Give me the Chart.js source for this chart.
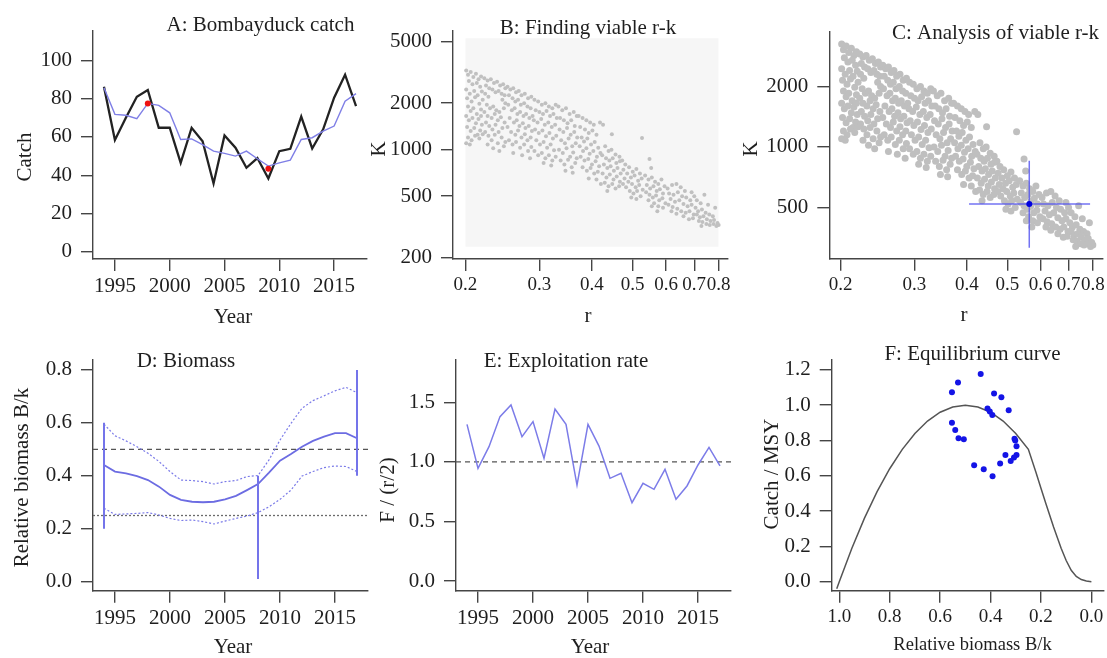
<!DOCTYPE html>
<html><head><meta charset="utf-8">
<script src="https://cdn.jsdelivr.net/npm/chart.js@4.4.1/dist/chart.umd.min.js"></script>
<style>
html,body{margin:0;padding:0;background:#fff;}
#wrap{position:relative;width:1107px;height:658px;overflow:hidden;background:#fff;}
canvas{position:absolute;}
</style></head><body><div id="wrap">
<canvas id="cA"></canvas><canvas id="cB"></canvas><canvas id="cC"></canvas>
<canvas id="cD"></canvas><canvas id="cE"></canvas><canvas id="cF"></canvas>
</div>
<script>
// ---------------- DATA ----------------
const years = [1994,1995,1996,1997,1998,1999,2000,2001,2002,2003,2004,2005,2006,2007,2008,2009,2010,2011,2012,2013,2014,2015,2016,2017];
const catchObs = [86.2,58.4,70,81,84.5,64.8,64.8,46.5,64.8,57.8,35.7,60.8,54.4,43.9,49,38.3,52.6,53.8,70.6,54,64,80.5,92.5,76.1];
const catchSmooth = [85.7,71.8,71.3,69.5,77.5,76.5,72.6,58.7,59,56,52.6,51.4,50,52.6,48.6,44.8,46.5,47.9,58.7,59.6,63,65.7,78.7,82.6];
const redYears = [1998,2009];
const redCatch = [77.5,43.4];
const catchTicks = [0,20,40,60,80,100];
const yearTicks = [1995,2000,2005,2010,2015];

const rTicks = [0.2,0.3,0.4,0.5,0.6,0.7,0.8];
const kTicksB = [200,500,1000,2000,5000];
const kTicksC = [500,1000,2000];
const exploredR = [0.2,0.8];
const exploredKtop = [5260,5260];
const exploredKbottom = 235;
const viableRK = [
[0.201,3250],[0.203,3050],[0.206,3180],[0.209,2950],[0.212,3100],[0.215,2850],[0.218,2980],[0.204,2780],[0.208,2650],[0.213,2700],[0.217,2550],[0.201,2450],[0.205,2300],[0.21,2400],[0.214,2250],[0.219,2380],[0.202,2150],[0.207,2050],[0.211,2180],[0.216,1980],[0.22,2100],[0.203,1900],[0.206,1780],[0.209,1850],[0.213,1700],[0.218,1820],[0.201,1650],[0.204,1550],[0.208,1600],[0.212,1480],[0.215,1580],[0.219,1450],[0.202,1400],[0.206,1320],[0.21,1380],[0.214,1250],[0.217,1330],[0.203,1200],[0.207,1150],[0.211,1230],[0.216,1180],[0.201,1100],[0.205,1080],[0.22,1260],[0.218,1650],
[0.222,2900],[0.226,2800],[0.23,2850],[0.234,2700],[0.238,2750],[0.242,2600],[0.246,2650],[0.249,2500],[0.224,2600],[0.228,2500],[0.232,2450],[0.236,2350],[0.24,2400],[0.244,2300],[0.248,2250],[0.223,2300],[0.227,2200],[0.245,2100],[0.249,2000],[0.225,1950],[0.229,1850],[0.233,1900],[0.237,1800],[0.241,1750],[0.247,1850],[0.222,1750],[0.226,1650],[0.231,1600],[0.235,1700],[0.239,1550],[0.243,1620],[0.248,1500],[0.224,1500],[0.228,1420],[0.232,1350],[0.236,1450],[0.24,1300],[0.245,1380],[0.223,1300],[0.227,1230],[0.231,1150],[0.235,1250],[0.239,1100],[0.244,1200],[0.249,1120],[0.226,1080],[0.233,1020],[0.241,980],[0.247,1050],
[0.252,2550],[0.256,2450],[0.26,2500],[0.264,2350],[0.268,2400],[0.272,2250],[0.277,2300],[0.282,2150],[0.287,2200],[0.254,2250],[0.259,2150],[0.263,2050],[0.267,2100],[0.271,1950],[0.276,2000],[0.281,1900],[0.286,1850],[0.253,1950],[0.258,1800],[0.262,1850],[0.266,1700],[0.27,1750],[0.275,1650],[0.279,1700],[0.284,1600],[0.289,1650],[0.255,1600],[0.261,1500],[0.265,1550],[0.269,1420],[0.274,1480],[0.278,1380],[0.283,1420],[0.288,1320],[0.252,1400],[0.257,1300],[0.263,1250],[0.267,1330],[0.272,1200],[0.277,1260],[0.281,1150],[0.286,1200],[0.254,1150],[0.259,1080],[0.264,1120],[0.27,1030],[0.276,1080],[0.282,980],[0.287,1040],[0.26,950],[0.273,920],[0.285,880],
[0.292,2100],[0.298,2050],[0.304,1950],[0.31,2000],[0.316,1900],[0.322,1850],[0.328,1950],[0.294,1800],[0.3,1750],[0.306,1700],[0.312,1780],[0.318,1650],[0.324,1700],[0.33,1600],[0.291,1550],[0.297,1500],[0.303,1580],[0.309,1450],[0.315,1500],[0.321,1400],[0.327,1450],[0.293,1350],[0.299,1280],[0.305,1330],[0.311,1220],[0.317,1280],[0.323,1180],[0.329,1230],[0.295,1150],[0.301,1080],[0.307,1120],[0.313,1030],[0.319,1080],[0.325,990],[0.292,980],[0.298,920],[0.304,950],[0.31,880],[0.316,920],[0.322,850],[0.328,900],[0.307,820],[0.32,790],
[0.333,1900],[0.34,1800],[0.347,1850],[0.354,1700],[0.362,1750],[0.368,1650],[0.336,1600],[0.343,1550],[0.35,1480],[0.357,1550],[0.364,1420],[0.335,1350],[0.342,1300],[0.349,1380],[0.356,1250],[0.363,1300],[0.369,1200],[0.338,1150],[0.345,1100],[0.352,1180],[0.359,1050],[0.366,1100],[0.334,1000],[0.341,950],[0.348,1020],[0.355,900],[0.361,960],[0.368,880],[0.337,850],[0.344,800],[0.351,860],[0.358,770],[0.365,820],[0.346,730],[0.36,710],
[0.372,1650],[0.38,1600],[0.388,1550],[0.396,1500],[0.404,1450],[0.375,1400],[0.385,1350],[0.393,1280],[0.401,1330],[0.41,1250],[0.418,1500],[0.378,1200],[0.383,1130],[0.39,1180],[0.398,1080],[0.406,1120],[0.414,1030],[0.374,1050],[0.381,980],[0.388,1020],[0.395,940],[0.403,980],[0.411,900],[0.419,950],[0.376,900],[0.384,850],[0.392,870],[0.4,800],[0.408,840],[0.416,780],[0.38,770],[0.389,730],[0.397,760],[0.405,700],[0.413,720],[0.393,650],[0.41,640],[0.42,600],
[0.425,1450],[0.446,1260],[0.43,1050],[0.438,980],[0.445,1000],[0.455,930],[0.465,900],[0.423,920],[0.432,880],[0.44,850],[0.448,880],[0.457,820],[0.466,840],[0.427,800],[0.435,760],[0.443,780],[0.451,730],[0.46,760],[0.468,700],[0.424,700],[0.433,660],[0.441,690],[0.45,640],[0.458,670],[0.466,620],[0.429,610],[0.438,580],[0.447,600],[0.455,560],[0.464,580],[0.435,540],
[0.526,1190],[0.472,850],[0.48,800],[0.49,770],[0.5,720],[0.51,750],[0.52,700],[0.475,740],[0.485,700],[0.495,660],[0.505,680],[0.515,630],[0.525,650],[0.478,650],[0.488,620],[0.498,600],[0.508,570],[0.518,590],[0.528,550],[0.482,570],[0.492,540],[0.502,520],[0.512,540],[0.522,500],[0.496,490],[0.51,480],[0.474,600],
[0.548,870],[0.553,760],[0.535,680],[0.545,640],[0.555,660],[0.565,620],[0.575,600],[0.585,640],[0.595,580],[0.54,590],[0.55,560],[0.56,580],[0.57,540],[0.58,555],[0.59,520],[0.538,530],[0.548,510],[0.558,490],[0.568,505],[0.578,470],[0.588,485],[0.598,450],[0.545,470],[0.562,450],[0.575,430],[0.59,420],[0.555,430],[0.572,400],
[0.605,560],[0.62,590],[0.635,600],[0.65,570],[0.665,540],[0.69,530],[0.61,520],[0.625,510],[0.64,530],[0.655,500],[0.67,490],[0.685,470],[0.615,480],[0.63,460],[0.645,470],[0.66,445],[0.675,430],[0.69,440],[0.608,440],[0.622,425],[0.638,415],[0.652,400],[0.668,390],[0.682,400],[0.698,380],[0.618,400],[0.635,385],[0.66,370],[0.68,355],[0.695,360],[0.7,500],
[0.71,470],[0.725,450],[0.74,510],[0.755,440],[0.785,420],[0.705,420],[0.715,400],[0.73,410],[0.745,390],[0.76,380],[0.775,370],[0.71,380],[0.722,365],[0.736,370],[0.75,355],[0.765,345],[0.78,350],[0.795,335],[0.718,345],[0.732,340],[0.748,330],[0.762,325],[0.778,330],[0.79,320],[0.8,325],[0.728,320]
];
const rBest = 0.564, rLo = 0.405, rHi = 0.788;
const kBest = 521, kLo = 315, kHi = 854;

const bkMid = [0.441,0.416,0.409,0.399,0.384,0.359,0.328,0.309,0.302,0.300,0.302,0.311,0.324,0.346,0.369,0.412,0.457,0.482,0.51,0.532,0.548,0.561,0.561,0.542];
const bkHi  = [0.595,0.551,0.532,0.51,0.485,0.454,0.416,0.384,0.382,0.378,0.369,0.378,0.382,0.397,0.401,0.46,0.535,0.598,0.655,0.684,0.702,0.721,0.734,0.714];
const bkLo  = [0.277,0.254,0.256,0.258,0.261,0.252,0.239,0.231,0.233,0.227,0.218,0.229,0.239,0.248,0.261,0.283,0.311,0.346,0.399,0.416,0.431,0.437,0.435,0.416];
const priorYears = [1994,2008,2017];
const priorLo = [0.2,0.01,0.4];
const priorHi = [0.6,0.4,0.8];
const bkRefHalf = 0.5, bkRefQuarter = 0.25;
const bkTicks = [0,0.2,0.4,0.6,0.8];

const fRatio = [1.315,0.946,1.128,1.38,1.478,1.212,1.338,1.03,1.444,1.315,0.806,1.315,1.133,0.862,0.904,0.658,0.82,0.77,0.938,0.686,0.798,0.974,1.122,0.966];
const fRef = 1.0;
const fTicks = [0,0.5,1,1.5];

const eqB = [1.01,1.0,0.95,0.9,0.85,0.8,0.75,0.7,0.65,0.6,0.55,0.5,0.45,0.4,0.35,0.3,0.25,0.22,0.2,0.18,0.15,0.12,0.1,0.08,0.06,0.04,0.02,0.0];
const eqC = [-0.04,0.0,0.19,0.36,0.51,0.64,0.75,0.84,0.91,0.96,0.99,1.0,0.99,0.96,0.91,0.84,0.75,0.62,0.53,0.44,0.31,0.19,0.12,0.065,0.03,0.012,0.004,0.0];
const obsB = [0.439,0.529,0.553,0.386,0.357,0.328,0.412,0.403,0.393,0.553,0.540,0.527,0.506,0.302,0.305,0.297,0.341,0.297,0.307,0.32,0.362,0.465,0.427,0.392];
const obsC = [1.177,1.128,1.074,1.066,1.045,0.972,0.981,0.964,0.945,0.90,0.86,0.813,0.807,0.80,0.81,0.768,0.718,0.718,0.703,0.684,0.669,0.66,0.637,0.597];
const eqTicksX = [0,0.2,0.4,0.6,0.8,1.0];
const eqTicksY = [0,0.2,0.4,0.6,0.8,1.0,1.2];

// ---------------- HELPERS ----------------
const FONT = "'Liberation Serif','Times New Roman',Times,serif";
const xy = (xs, ys) => xs.map((x,i)=>({x:x, y:ys[i]}));
const lineDS = (data, color, width, dash) => ({type:'scatter', data, showLine:true, borderColor:color, borderWidth:width, borderDash:dash||[], pointRadius:0, pointHoverRadius:0, fill:false, tension:0});
const ptsDS = (data, color, r) => ({type:'scatter', data, showLine:false, pointRadius:r, pointHoverRadius:r, pointBackgroundColor:color, pointBorderWidth:0, borderColor:color, backgroundColor:color});

const textPlugin = {
  id:'txt',
  afterDraw(chart, args, opts) {
    const ctx = chart.ctx;
    (opts.items||[]).forEach(it => {
      ctx.save();
      ctx.font = (it.size||21) + 'px ' + FONT;
      ctx.fillStyle = '#1e1e1e';
      ctx.textAlign = it.align||'center';
      ctx.textBaseline = it.base||'middle';
      ctx.translate(it.x, it.y);
      if (it.rot) ctx.rotate(it.rot*Math.PI/180);
      ctx.fillText(it.t, 0, 0);
      ctx.restore();
    });
  }
};

function axis(o, pos) {
  return {
    type: o.type||'linear', position: pos, min: o.min, max: o.max, reverse: !!o.reverse, bounds:'data',
    border: {display:true, color:'#454545', width:1.4},
    grid: {display:true, drawOnChartArea:false, drawTicks:true, tickLength:12, color:'#454545', lineWidth:1.4},
    ticks: {autoSkip:false, maxRotation:0, minRotation:0, padding:o.pad, color:'#1e1e1e',
            font:{family:FONT, size:o.fs||21}, callback:o.fmt},
    afterBuildTicks: s => { s.ticks = o.ticks.map(v=>({value:v})); },
    afterFit: s => {
      if (s.isHorizontal()) s.height = o.size; else s.width = o.size;
      s.paddingLeft = 0; s.paddingRight = 0; s.paddingTop = 0; s.paddingBottom = 0;
    }
  };
}

function makeChart(id, ox, oy, cw, ch, area, xo, yo, datasets, texts) {
  const el = document.getElementById(id);
  el.width = cw; el.height = ch;
  el.style.left = ox + 'px'; el.style.top = oy + 'px';
  el.style.width = cw + 'px'; el.style.height = ch + 'px';
  const L = area.l - ox, T = area.t - oy, R = area.r - ox, B = area.b - oy;
  xo.size = ch - B; yo.size = L;
  return new Chart(el, {
    type:'scatter',
    data:{datasets},
    options:{
      responsive:false, animation:false, devicePixelRatio:1, events:[],
      layout:{padding:{left:0, top:T, right:cw - R, bottom:0}},
      plugins:{legend:{display:false}, tooltip:{enabled:false}, title:{display:false},
        txt:{items: texts.map(t => Object.assign({}, t, {x:t.x - ox, y:t.y - oy}))}},
      scales:{x: axis(xo,'bottom'), y: axis(yo,'left')}
    },
    plugins:[textPlugin]
  });
}
const fmtInt = v => String(v);
const fmt1 = v => Number(v).toFixed(1);
const fmtR = v => String(v);

// ---------------- A ----------------
makeChart('cA', 0, 0, 370, 330, {l:93, t:31, r:368, b:259},
  {min:1993, max:2018, ticks:yearTicks, fmt:fmtInt, pad:3},
  {min:-3.7, max:115.3, ticks:catchTicks, fmt:fmtInt, pad:9},
  [
    ptsDS(xy(redYears, redCatch), '#ee1111', 3),
    lineDS(xy(years, catchSmooth), '#7f7fe6', 1.4),
    lineDS(xy(years, catchObs), '#222222', 2.3)
  ],
  [
    {t:'A: Bombayduck catch', x:260.5, y:31, base:'alphabetic'},
    {t:'Catch', x:25.5, y:157, rot:-90},
    {t:'Year', x:233, y:317.5}
  ]);

// ---------------- B ----------------
makeChart('cB', 370, 0, 370, 330, {l:453, t:31, r:728, b:259},
  {type:'logarithmic', min:0.187, max:0.842, ticks:rTicks, fmt:fmtR, pad:3, fs:19},
  {type:'logarithmic', min:196, max:5860, ticks:kTicksB, fmt:fmtInt, pad:9},
  [
    ptsDS(viableRK.map(p=>({x:p[0], y:p[1]})), '#c0c0c0', 2),
    {type:'line', data:xy(exploredR, exploredKtop), borderWidth:0, pointRadius:0, fill:{value:exploredKbottom}, backgroundColor:'#f6f6f6', borderColor:'rgba(0,0,0,0)'}
  ],
  [
    {t:'B: Finding viable r-k', x:588, y:34, base:'alphabetic'},
    {t:'K', x:379, y:149, rot:-90},
    {t:'r', x:588, y:316}
  ]);

// ---------------- C ----------------
makeChart('cC', 740, 0, 367, 330, {l:829.3, t:31.7, r:1103, b:258.7},
  {type:'logarithmic', min:0.1878, max:0.846, ticks:rTicks, fmt:fmtR, pad:3, fs:19},
  {type:'logarithmic', min:278, max:3746, ticks:kTicksC, fmt:fmtInt, pad:9},
  [
    ptsDS([{x:rBest, y:kBest}], '#0000dd', 3),
    lineDS(xy([rLo, rHi], [kBest, kBest]), 'rgba(80,80,240,0.8)', 1.5),
    lineDS(xy([rBest, rBest], [kLo, kHi]), 'rgba(80,80,240,0.8)', 1.5),
    ptsDS(viableRK.map(p=>({x:p[0], y:p[1]})), '#bfbfbf', 3.5)
  ],
  [
    {t:'C: Analysis of viable r-k', x:995.5, y:38.5, base:'alphabetic'},
    {t:'K', x:751, y:149, rot:-90},
    {t:'r', x:964, y:315}
  ]);

// ---------------- D ----------------
makeChart('cD', 0, 330, 370, 328, {l:93, t:359.3, r:368, b:590.7},
  {min:1993, max:2018, ticks:yearTicks, fmt:fmtInt, pad:3},
  {min:-0.034, max:0.84, ticks:bkTicks, fmt:fmt1, pad:9},
  [
    lineDS(xy([priorYears[0],priorYears[0]], [priorLo[0],priorHi[0]]), '#7474ea', 2),
    lineDS(xy([priorYears[1],priorYears[1]], [priorLo[1],priorHi[1]]), '#7474ea', 2),
    lineDS(xy([priorYears[2],priorYears[2]], [priorLo[2],priorHi[2]]), '#7474ea', 2),
    lineDS(xy(years, bkMid), '#6c6ce2', 1.8),
    lineDS(xy(years, bkHi), '#7b7be8', 1.2, [2,2]),
    lineDS(xy(years, bkLo), '#7b7be8', 1.2, [2,2]),
    lineDS(xy([1993,2018], [bkRefHalf,bkRefHalf]), '#555555', 1.3, [5,4]),
    lineDS(xy([1993,2018], [bkRefQuarter,bkRefQuarter]), '#6a6a6a', 1.3, [2,2])
  ],
  [
    {t:'D: Biomass', x:186, y:367, base:'alphabetic'},
    {t:'Relative biomass B/k', x:22.5, y:477.5, rot:-90},
    {t:'Year', x:233, y:647.5}
  ]);

// ---------------- E ----------------
makeChart('cE', 370, 330, 370, 328, {l:456, t:359.3, r:731, b:590.7},
  {min:1993, max:2018, ticks:yearTicks, fmt:fmtInt, pad:3},
  {min:-0.081, max:1.861, ticks:fTicks, fmt:fmt1, pad:9},
  [
    lineDS(xy(years, fRatio), '#7c7ce8', 1.5),
    lineDS(xy([1993,2018], [fRef,fRef]), '#555555', 1.3, [5,4])
  ],
  [
    {t:'E: Exploitation rate', x:566, y:367, base:'alphabetic'},
    {t:'F / (r/2)', x:388.3, y:490, rot:-90},
    {t:'Year', x:590, y:647.5}
  ]);

// ---------------- F ----------------
makeChart('cF', 740, 330, 367, 328, {l:831.7, t:359.3, r:1107, b:590.7},
  {min:-0.05, max:1.03, reverse:true, ticks:eqTicksX, fmt:fmt1, pad:3, fs:19},
  {min:-0.051, max:1.26, ticks:eqTicksY, fmt:fmt1, pad:9},
  [
    ptsDS(xy(obsB, obsC), '#1414e6', 3),
    lineDS(xy(eqB, eqC), '#555555', 1.5)
  ],
  [
    {t:'F: Equilibrium curve', x:972.5, y:360, base:'alphabetic'},
    {t:'Catch / MSY', x:772, y:474, rot:-90},
    {t:'Relative biomass B/k', x:972.5, y:645, size:18.5}
  ]);
</script>
</body></html>
